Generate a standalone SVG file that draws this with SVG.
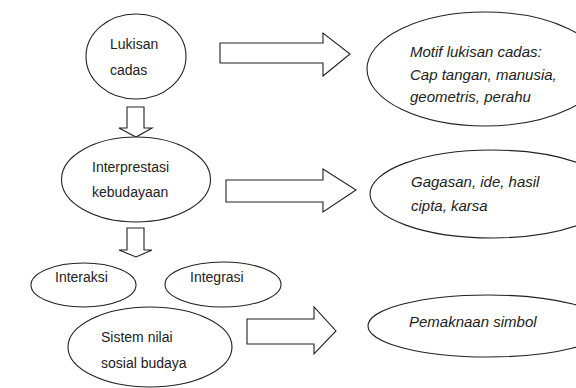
<svg xmlns="http://www.w3.org/2000/svg" width="576" height="388" viewBox="0 0 576 388">
<style>
.n{fill:#fff;stroke:#222;stroke-width:1.1}
.a{fill:#fff;stroke:#222;stroke-width:1.1;stroke-linejoin:miter}
text{font-family:"Liberation Sans",Arial,sans-serif;font-size:14px;fill:#222}
.i{font-style:italic;font-size:15px}
</style>
<rect width="576" height="388" fill="#fff"/>
<g id="connectors">
<polygon class="a" points="220,43 323,43 323,33 350,54 323,76 323,63 220,63"/>
<polygon class="a" points="226,180 323,180 323,169 356,190 323,212 323,202 226,202"/>
<polygon class="a" points="247,319 314,319 314,307 336,331 314,354 314,344 247,344"/>
<polygon class="a" points="127,107 144,107 144,128 152,128 136,137 119,128 127,128"/>
<polygon class="a" points="127,228 144,228 144,250 152,250 136,257 119,250 127,250"/>
</g>
<g id="lukisan">
<ellipse class="n" cx="136" cy="56.5" rx="50" ry="42.5"/>
<text x="110" y="49">Lukisan</text>
<text x="110" y="75">cadas</text>
</g>
<g id="interprestasi">
<ellipse class="n" cx="136" cy="179.5" rx="74.5" ry="42.5"/>
<text x="92" y="172">Interprestasi</text>
<text x="92" y="197">kebudayaan</text>
</g>
<g id="interaksi">
<ellipse class="n" cx="83.5" cy="285" rx="52.5" ry="22"/>
<text x="55" y="282">Interaksi</text>
</g>
<g id="integrasi">
<ellipse class="n" cx="223" cy="284.5" rx="58" ry="22.5"/>
<text x="190" y="282">Integrasi</text>
</g>
<g id="sistem">
<ellipse class="n" cx="150" cy="347" rx="82" ry="40"/>
<text x="101" y="342">Sistem nilai</text>
<text x="101" y="368">sosial budaya</text>
</g>
<g id="motif">
<ellipse class="n" cx="485" cy="69" rx="118" ry="57"/>
<text class="i" x="410" y="57">Motif lukisan cadas:</text>
<text class="i" x="410" y="80">Cap tangan, manusia,</text>
<text class="i" x="410" y="102">geometris, perahu</text>
</g>
<g id="gagasan">
<ellipse class="n" cx="492" cy="194" rx="122" ry="44"/>
<text class="i" x="411" y="187">Gagasan, ide, hasil</text>
<text class="i" x="411" y="211">cipta, karsa</text>
</g>
<g id="pemaknaan">
<ellipse class="n" cx="488" cy="326" rx="120" ry="31"/>
<text class="i" x="409" y="327">Pemaknaan simbol</text>
</g>
</svg>
